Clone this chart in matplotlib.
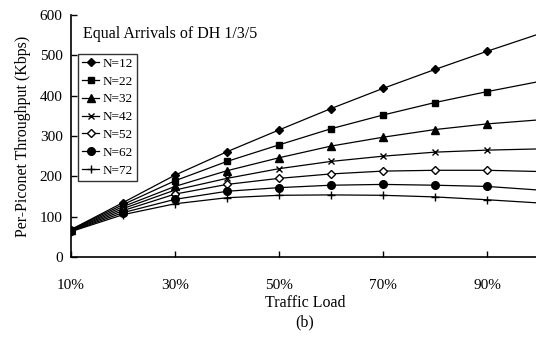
import matplotlib  # backend without display
matplotlib.use("Agg")
import matplotlib.pyplot as plt

# traffic load (%)
LOADS = [10, 20, 30, 40, 50, 60, 70, 80, 90, 100]
X_TICKS = [10, 30, 50, 70, 90]
X_LABELS = ["10%", "30%", "50%", "70%", "90%"]
Y_TICKS = [0, 100, 200, 300, 400, 500, 600]

# per-piconet throughput (Kbps) for each N
N12 = [68, 135, 203, 261, 315, 368, 418, 465, 510, 553]
N22 = [68, 130, 189, 237, 278, 318, 352, 383, 410, 435]
N32 = [67, 125, 175, 214, 246, 275, 297, 316, 330, 340]
N42 = [66, 120, 166, 195, 219, 237, 250, 260, 265, 268]
N52 = [65, 115, 156, 180, 195, 206, 213, 215, 215, 212]
N62 = [64, 110, 143, 163, 172, 178, 180, 178, 175, 166]
N72 = [63, 105, 132, 147, 153, 154, 153, 149, 142, 134]

SERIES = ["N=12", "N=22", "N=32", "N=42", "N=52", "N=62", "N=72"]
VALUES = [N12, N22, N32, N42, N52, N62, N72]

# marker, face colour, size for each series
STYLES = [
    ("D", "black", 4),
    ("s", "black", 5),
    ("^", "black", 5.5),
    ("x", "black", 4.5),
    ("D", "white", 4),
    ("o", "black", 5.5),
    ("+", "black", 6),
]


def draw_chart():
    plt.rcParams["font.family"] = ["Liberation Serif", "DejaVu Serif"]
    fig = plt.figure(figsize=(5.36, 3.38), dpi=100)
    ax = fig.add_axes([0.1325, 0.2396, 0.873, 0.716])  # right part is cut off like the scan

    for label, vals, (mk, face, ms) in zip(SERIES, VALUES, STYLES):
        ax.plot(LOADS, vals, color="black", linewidth=0.9, marker=mk,
                markerfacecolor=face, markeredgecolor="black", markersize=ms,
                markeredgewidth=1.0, markevery=slice(0, 9), label=label)

    ax.set_xlim(10, 100)
    ax.set_ylim(0, 600)
    ax.set_xticks(X_TICKS)
    ax.set_xticklabels(X_LABELS)
    ax.set_yticks(Y_TICKS)
    ax.tick_params(direction="in", length=4, width=1, labelsize=11, color="black")
    ax.tick_params(axis="x", pad=16)
    ax.tick_params(axis="y", pad=6)
    for side in ("top", "right"):
        ax.spines[side].set_visible(False)
    for side in ("left", "bottom"):
        ax.spines[side].set_linewidth(1.2)

    ax.set_ylabel("Per-Piconet Throughput (Kbps)", fontsize=11.5, labelpad=6)
    ax.set_xlabel("Traffic Load\n(b)", fontsize=11.5, labelpad=2, linespacing=1.3)
    ax.text(0.025, 0.955, "Equal Arrivals of DH 1/3/5", transform=ax.transAxes,
            fontsize=11.5, va="top", ha="left")

    leg = ax.legend(loc="upper left", bbox_to_anchor=(0.015, 0.84), fontsize=9.5,
                    frameon=True, fancybox=False, edgecolor="black",
                    handlelength=1.3, handletextpad=0.25, labelspacing=0.42,
                    borderpad=0.3, borderaxespad=0)
    leg.get_frame().set_linewidth(1.0)

    fig.savefig("out.png", dpi=100)


def main():
    draw_chart()


if __name__ == "__main__":
    main()
